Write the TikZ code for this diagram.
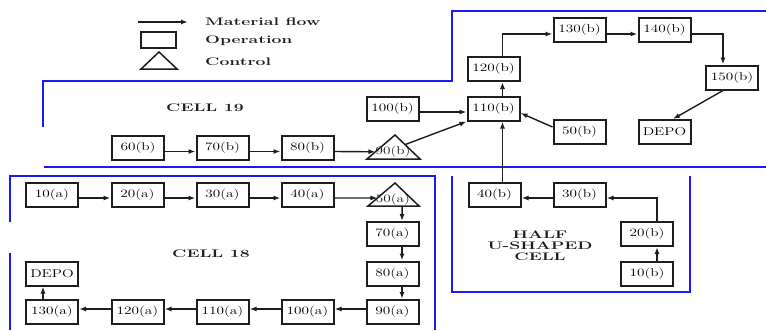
\documentclass[tikz,border=0pt]{standalone}
\usepackage{graphicx}
\usetikzlibrary{arrows.meta,calc}
\newcommand{\lb}[1]{\scalebox{1.35}[1]{\fontsize{11.3}{12}\selectfont #1}}
\newcommand{\hd}[1]{\scalebox{1.6}[1]{\fontsize{11}{12}\selectfont\bfseries #1}}
\definecolor{cellblue}{RGB}{25,25,250}
\definecolor{ink}{RGB}{30,30,30}
\tikzset{
  op/.style={draw=ink, line width=2pt, fill=white, minimum width=52pt, minimum height=24pt, inner sep=0pt},
  flow/.style={draw=ink, line width=1.4pt, -{Latex[length=7pt,width=5pt]}},
  wall/.style={draw=cellblue, line width=2pt},
  ctrl/.style={draw=ink, line width=1.5pt, fill=white, line join=miter},
  txt/.style={inner sep=0pt, text=ink},
}
\begin{document}
\begin{tikzpicture}[x=1pt,y=-1pt]
\useasboundingbox (0,0) rectangle (766,330);
% ---- legend
\coordinate (lgA) at (138,22);
\coordinate (lgB) at (188,22);
\draw[flow] (lgA) -- (lgB);
\node[txt, anchor=west] (lgt1) at (205,22) {\hd{Material flow}};
\draw[draw=ink, line width=2pt] (141,32) rectangle (176,48);
\node[txt, anchor=west] (lgt2) at (205,41) {\hd{Operation}};
\draw[draw=ink, line width=1.5pt] (141,69) -- (159,52) -- (177,69) -- cycle;
\node[txt, anchor=west] (lgt3) at (205,62) {\hd{Control}};
% ---- cell walls
\draw[wall] (43,127) -- (43,81) -- (452,81) -- (452,11) -- (766,11);
\draw[wall, line width=1.6pt] (44,167) -- (766,167);
\draw[wall] (10,222) -- (10,176) -- (435,176) -- (435,330);
\draw[wall] (10,253) -- (10,330);
\draw[wall] (452,176) -- (452,292) -- (690,292) -- (690,176);
% ---- titles
\node[txt] (t19) at (205,108) {\hd{CELL 19}};
\node[txt] (t18) at (211,254) {\hd{CELL 18}};
\node[txt, align=center] (thu) at (540,246) {\hd{HALF}\\[-1.2pt]\hd{U-SHAPED}\\[-1.2pt]\hd{CELL}};
% ---- cell 19 nodes
\node[op] (b60) at (138,147.5) {\lb{60(b)}};
\node[op] (b70) at (222.5,147.5) {\lb{70(b)}};
\node[op] (b80) at (307.5,147.5) {\lb{80(b)}};
\coordinate (b90l) at (367,159);
\coordinate (b90r) at (420,159);
\coordinate (b90t) at (395,135);
\draw[ctrl] (b90l) -- (b90t) -- (b90r) -- cycle;
\node[txt] (b90) at (393,152) {\lb{90(b)}};
\node[op] (b100) at (392.5,108.5) {\lb{100(b)}};
\node[op] (b110) at (493.5,108.5) {\lb{110(b)}};
\node[op] (b120) at (493.5,69) {\lb{120(b)}};
\node[op] (b130) at (579.5,30) {\lb{130(b)}};
\node[op] (b140) at (664.5,30) {\lb{140(b)}};
\node[op] (b150) at (732,77.5) {\lb{150(b)}};
\node[op] (b50) at (579.5,132) {\lb{50(b)}};
\node[op] (depob) at (664.5,132) {\lb{DEPO}};
% ---- half U nodes
\node[op] (b40) at (494.5,195) {\lb{40(b)}};
\node[op] (b30) at (579.5,195) {\lb{30(b)}};
\node[op] (b20) at (647,234) {\lb{20(b)}};
\node[op] (b10) at (647,273.5) {\lb{10(b)}};
% ---- cell 18 nodes
\node[op] (a10) at (52,195) {\lb{10(a)}};
\node[op] (a20) at (137.5,195) {\lb{20(a)}};
\node[op] (a30) at (222.5,195) {\lb{30(a)}};
\node[op] (a40) at (307.5,195) {\lb{40(a)}};
\coordinate (a50l) at (368,206);
\coordinate (a50r) at (419,206);
\coordinate (a50t) at (395,183);
\draw[ctrl] (a50l) -- (a50t) -- (a50r) -- cycle;
\node[txt] (a50) at (393,199.5) {\lb{50(a)}};
\node[op] (a70) at (392.5,234) {\lb{70(a)}};
\node[op] (a80) at (392.5,273.5) {\lb{80(a)}};
\node[op] (a90) at (392.5,312) {\lb{90(a)}};
\node[op] (a100) at (307.5,312) {\lb{100(a)}};
\node[op] (a110) at (222.5,312) {\lb{110(a)}};
\node[op] (a120) at (137.5,312) {\lb{120(a)}};
\node[op] (a130) at (52,312) {\lb{130(a)}};
\node[op] (depoa) at (52,273.5) {\lb{DEPO}};
% ---- cell 19 flows
\draw[flow] ([yshift=-4pt]b60.east) -- ([yshift=-4pt]b70.west);
\draw[flow] ([yshift=-4pt]b70.east) -- ([yshift=-4pt]b80.west);
\draw[flow] ([yshift=-4pt]b80.east) -- ($(b90l)!0.3!(b90t)$);
\draw[flow] ($(b90t)!0.4!(b90r)$) -- (b110.south west);
\draw[flow] ([yshift=-3.5pt]b100.east) -- ([yshift=-3.5pt]b110.west);
\draw[flow] ([yshift=5pt]b50.west) -- ([yshift=-4.5pt]b110.east);
\draw[flow] ([xshift=9pt]b110.north) -- ([xshift=9pt]b120.south);
\draw[flow] ([xshift=9pt]b120.north) |- ([yshift=-4pt]b130.west);
\draw[flow] ([yshift=-4pt]b130.east) -- ([yshift=-4pt]b140.west);
\draw[flow] ([yshift=-4pt]b140.east) -| ([xshift=-9pt]b150.north);
\draw[flow] ([xshift=-9pt]b150.south) -- ([xshift=8.5pt]depob.north);
% ---- half U flows
\draw[flow] ([xshift=10pt]b10.north) -- ([xshift=10pt]b20.south);
\draw[flow] ([xshift=10pt]b20.north) |- ([yshift=-3pt]b30.east);
\draw[flow] ([yshift=-3pt]b30.west) -- ([yshift=-3pt]b40.east);
\draw[flow] ([xshift=8pt]b40.north) -- ([xshift=9pt]b110.south);
% ---- cell 18 flows
\draw[flow] ([yshift=-3pt]a10.east) -- ([yshift=-3pt]a20.west);
\draw[flow] ([yshift=-3pt]a20.east) -- ([yshift=-3pt]a30.west);
\draw[flow] ([yshift=-3pt]a30.east) -- ([yshift=-3pt]a40.west);
\draw[flow] ([yshift=-3pt]a40.east) -- ($(a50l)!0.35!(a50t)$);
\draw[flow] ($(a50l)!0.67!(a50r)$) -- ([xshift=9.5pt]a70.north);
\draw[flow] ([xshift=9.5pt]a70.south) -- ([xshift=9.5pt]a80.north);
\draw[flow] ([xshift=9.5pt]a80.south) -- ([xshift=9.5pt]a90.north);
\draw[flow] ([yshift=3pt]a90.west) -- ([yshift=3pt]a100.east);
\draw[flow] ([yshift=3pt]a100.west) -- ([yshift=3pt]a110.east);
\draw[flow] ([yshift=3pt]a110.west) -- ([yshift=3pt]a120.east);
\draw[flow] ([yshift=3pt]a120.west) -- ([yshift=3pt]a130.east);
\draw[flow] ([xshift=-9pt]a130.north) -- ([xshift=-9pt]depoa.south);
\end{tikzpicture}
\end{document}
